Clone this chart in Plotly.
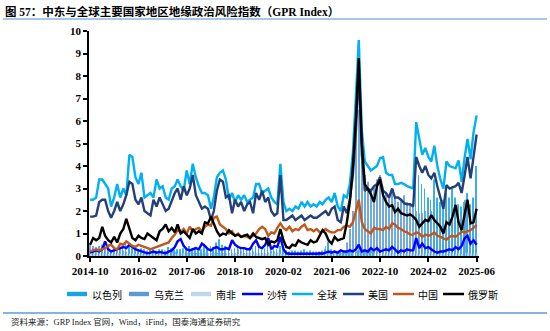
import pandas as pd
import plotly.graph_objects as go

# Monthly observations, 2014-10 .. 2025-06
months = pd.date_range("2014-10-01", "2025-06-01", freq="MS")

tick_labels = ["2014-10", "2016-02", "2017-06", "2018-10", "2020-02",
               "2021-06", "2022-10", "2024-02", "2025-06"]
tick_vals = pd.to_datetime([t + "-01" for t in tick_labels])

# ---- bar series (country GPR) ----
israel = (
    [0.3, 0.35, 0.3]
    + [0.4, 0.5, 0.45, 0.3, 0.25, 0.3, 0.35, 0.3, 0.4, 0.6, 0.45, 0.35]
    + [0.4, 0.3, 0.35, 0.3, 0.25, 0.3, 0.3, 0.25, 0.3, 0.3, 0.25, 0.4]
    + [0.35, 0.3, 0.3, 0.3, 0.35, 0.3, 0.45, 0.3, 0.3, 0.3, 0.3, 0.55]
    + [0.4, 0.45, 0.4, 0.6, 0.75, 0.5, 0.45, 0.35, 0.3, 0.35, 0.45, 0.4]
    + [0.35, 0.3, 0.4, 0.35, 0.45, 0.35, 0.3, 0.35, 0.45, 0.35, 0.4, 0.3]
    + [0.45, 0.35, 0.25, 0.2, 0.25, 0.25, 0.2, 0.25, 0.3, 0.2, 0.25, 0.2]
    + [0.2, 0.2, 0.25, 0.3, 0.65, 0.3, 0.25, 0.2, 0.2, 0.25, 0.2, 0.2]
    + [0.25, 0.2, 0.25, 0.3, 0.3, 0.25, 0.25, 0.3, 0.25, 0.25, 0.25, 0.3]
    + [0.35, 0.3, 0.35, 0.4, 0.35, 0.3, 0.35, 0.3, 0.3, 4.3, 3.6, 3.2]
    + [3.0, 2.6, 2.5, 3.4, 2.6, 2.4, 2.5, 2.8, 2.6, 3.1, 2.6, 2.3]
    + [2.2, 2.4, 2.8, 2.3, 2.6, 4.0]
)
ukraine = (
    [0.55, 0.45, 0.4]
    + [0.45, 0.5, 0.35, 0.3, 0.25, 0.3, 0.25, 0.3, 0.25, 0.2, 0.2, 0.2]
    + [0.2, 0.2, 0.15, 0.15, 0.2, 0.15, 0.15, 0.2, 0.15, 0.15, 0.15, 0.15]
    + [0.2, 0.2, 0.15, 0.15, 0.15, 0.15, 0.15, 0.15, 0.15, 0.12, 0.12, 0.15]
    + [0.12, 0.12, 0.12, 0.15, 0.12, 0.12, 0.12, 0.12, 0.12, 0.12, 0.3, 0.25]
    + [0.15, 0.15, 0.15, 0.2, 0.15, 0.12, 0.12, 0.12, 0.15, 0.25, 0.2, 0.15]
    + [0.2, 0.15, 0.1, 0.1, 0.1, 0.1, 0.1, 0.1, 0.1, 0.1, 0.1, 0.1]
    + [0.12, 0.15, 0.2, 0.45, 0.3, 0.15, 0.15, 0.15, 0.15, 0.2, 0.6, 1.2]
    + [2.0, 5.8, 6.5, 4.2, 3.6, 3.3, 3.0, 3.1, 3.4, 3.6, 3.0, 2.8]
    + [2.7, 2.9, 2.6, 2.4, 2.5, 2.7, 2.4, 2.3, 2.2, 2.0, 1.9, 1.9]
    + [2.0, 2.2, 2.0, 1.9, 2.1, 1.8, 1.7, 2.2, 1.9, 1.8, 2.0, 1.9]
    + [2.1, 2.5, 2.4, 2.2, 2.3, 2.4]
)
south_africa = (
    [0.1, 0.1, 0.08]
    + [0.1, 0.12, 0.1, 0.08, 0.1, 0.1, 0.12, 0.1, 0.08, 0.1, 0.1, 0.12]
    + [0.1, 0.08, 0.1, 0.12, 0.1, 0.08, 0.1, 0.1, 0.12, 0.1, 0.08, 0.1]
    + [0.12, 0.1, 0.1, 0.15, 0.12, 0.1, 0.1, 0.08, 0.1, 0.1, 0.12, 0.15]
    + [0.12, 0.1, 0.1, 0.08, 0.1, 0.1, 0.12, 0.1, 0.1, 0.08, 0.1, 0.1]
    + [0.1, 0.12, 0.1, 0.1, 0.12, 0.1, 0.08, 0.1, 0.1, 0.1, 0.12, 0.1]
    + [0.1, 0.08, 0.08, 0.1, 0.1, 0.12, 0.15, 0.1, 0.1, 0.08, 0.1, 0.1]
    + [0.1, 0.1, 0.08, 0.1, 0.1, 0.1, 0.2, 0.1, 0.1, 0.1, 0.08, 0.1]
    + [0.12, 0.15, 0.15, 0.12, 0.1, 0.1, 0.12, 0.1, 0.1, 0.12, 0.1, 0.1]
    + [0.12, 0.1, 0.1, 0.12, 0.1, 0.1, 0.1, 0.12, 0.1, 0.12, 0.1, 0.1]
    + [0.1, 0.12, 0.1, 0.1, 0.12, 0.1, 0.1, 0.1, 0.12, 0.1, 0.1, 0.12]
    + [0.1, 0.12, 0.15, 0.12, 0.1, 0.12]
)

# ---- line series ----
saudi = (
    [0.15, 0.2, 0.25]
    + [0.2, 0.3, 0.65, 0.3, 0.2, 0.25, 0.3, 0.35, 0.4, 0.35, 0.5, 0.4]
    + [0.3, 0.25, 0.2, 0.15, 0.12, 0.15, 0.2, 0.15, 0.18, 0.15, 0.12, 0.2]
    + [0.25, 0.4, 0.65, 0.75, 0.45, 0.3, 0.25, 0.3, 0.35, 0.3, 0.55, 0.45]
    + [0.3, 0.25, 0.35, 0.4, 0.3, 0.3, 0.35, 0.3, 0.7, 0.5, 0.4, 0.35]
    + [0.35, 0.3, 0.3, 0.55, 0.7, 0.4, 0.35, 0.5, 0.8, 0.3, 0.45, 0.4]
    + [0.85, 0.3, 0.12, 0.1, 0.1, 0.08, 0.1, 0.1, 0.08, 0.1, 0.1, 0.08]
    + [0.1, 0.12, 0.1, 0.15, 0.2, 0.15, 0.2, 0.15, 0.25, 0.2, 0.2, 0.25]
    + [0.2, 0.3, 0.5, 0.2, 0.25, 0.2, 0.35, 0.25, 0.35, 0.2, 0.25, 0.3]
    + [0.25, 0.4, 0.3, 0.15, 0.25, 0.2, 0.3, 0.25, 0.25, 0.8, 0.35, 0.55]
    + [0.35, 0.4, 0.3, 0.2, 0.15, 0.2, 0.2, 0.25, 0.3, 0.25, 0.4, 0.3]
    + [0.45, 0.8, 0.9, 0.55, 0.7, 0.5]
)
world = (
    [2.5, 2.5, 2.6]
    + [3.4, 3.4, 3.2, 3.0, 2.2, 2.6, 3.2, 2.6, 3.0, 2.7, 4.5, 4.4]
    + [3.5, 3.2, 3.7, 2.6, 2.7, 2.8, 2.6, 3.4, 3.0, 3.1, 2.6, 2.5]
    + [3.0, 3.1, 3.4, 3.1, 2.9, 3.8, 3.2, 4.1, 3.5, 3.1, 2.8, 2.8]
    + [2.7, 2.1, 2.6, 3.5, 3.7, 3.8, 3.4, 2.5, 2.8, 2.4, 2.7, 2.5]
    + [2.7, 2.4, 2.5, 2.6, 3.2, 3.2, 2.8, 2.9, 3.0, 2.6, 2.4, 2.3]
    + [4.1, 2.4, 2.0, 2.1, 2.0, 2.2, 2.1, 2.4, 2.2, 2.4, 2.2, 2.3]
    + [2.2, 2.4, 2.3, 2.5, 2.6, 2.4, 2.8, 2.2, 2.0, 2.7, 2.6, 3.2]
    + [4.6, 7.2, 9.6, 5.6, 4.2, 4.0, 3.8, 3.9, 4.0, 4.35, 4.4, 3.7]
    + [3.6, 3.6, 3.2, 3.2, 3.25, 3.2, 3.1, 3.05, 3.0, 5.95, 5.2, 4.5]
    + [4.8, 4.4, 4.2, 4.9, 4.0, 3.4, 3.0, 4.2, 4.0, 3.95, 3.9, 4.25]
    + [3.3, 4.4, 5.2, 4.3, 5.5, 6.25]
)
usa = (
    [1.75, 1.75, 1.8]
    + [2.4, 2.5, 2.5, 2.0, 1.7, 2.0, 2.4, 2.0, 2.3, 2.7, 3.3, 3.2]
    + [2.5, 2.3, 2.6, 2.0, 1.9, 1.8, 2.5, 2.2, 2.6, 2.3, 2.0, 2.1]
    + [2.5, 2.8, 3.0, 2.5, 3.1, 2.7, 3.0, 3.6, 2.7, 2.4, 2.1, 2.2]
    + [2.1, 1.6, 2.0, 2.9, 3.4, 3.3, 2.6, 2.7, 1.9, 2.5, 2.2, 2.4]
    + [2.0, 2.3, 2.4, 1.9, 2.8, 2.5, 2.9, 2.4, 2.6, 2.0, 1.8, 1.9]
    + [3.6, 1.6, 1.6, 1.7, 1.8, 1.6, 1.7, 1.8, 1.6, 1.7, 1.8, 1.7]
    + [1.7, 1.8, 1.9, 2.0, 1.8, 2.1, 2.2, 1.6, 1.5, 2.2, 1.9, 2.5]
    + [3.6, 5.6, 8.3, 4.5, 2.9, 3.0, 2.9, 3.1, 3.2, 3.5, 2.9, 2.8]
    + [2.6, 3.0, 2.6, 2.6, 2.5, 2.35, 2.3, 2.3, 2.2, 4.4, 4.0, 3.7]
    + [4.0, 3.6, 3.45, 3.7, 3.1, 2.6, 2.1, 3.15, 3.0, 3.05, 3.1, 3.25]
    + [2.8, 3.6, 4.4, 3.45, 4.5, 5.4]
)
china = (
    [0.2, 0.25, 0.3]
    + [0.25, 0.3, 0.35, 0.45, 0.5, 0.35, 0.3, 0.55, 0.5, 0.65, 0.55, 0.45]
    + [0.4, 0.5, 0.45, 0.4, 0.35, 0.3, 0.35, 0.4, 0.45, 0.5, 0.55, 0.6]
    + [0.8, 0.95, 1.15, 1.05, 1.2, 1.0, 1.3, 1.1, 1.2, 1.25, 1.1, 1.3]
    + [1.4, 1.35, 1.7, 1.75, 1.4, 1.3, 1.2, 1.0, 1.1, 0.9, 1.0, 0.85]
    + [0.9, 0.85, 0.8, 0.9, 1.0, 1.2, 1.3, 1.2, 0.9, 1.05, 1.0, 1.25]
    + [1.45, 1.25, 1.15, 1.3, 1.1, 1.2, 1.15, 1.3, 1.4, 1.15, 1.2, 1.1]
    + [1.2, 1.05, 1.1, 1.2, 1.1, 1.05, 1.05, 1.15, 1.15, 1.3, 1.35, 1.3]
    + [1.5, 2.0, 2.5, 1.5, 1.2, 1.1, 1.0, 1.25, 1.2, 1.2, 1.15, 1.3]
    + [1.2, 1.45, 1.4, 1.25, 1.2, 1.1, 1.05, 0.95, 0.95, 1.05, 1.0, 0.85]
    + [0.95, 0.9, 0.95, 1.05, 0.9, 0.85, 0.8, 0.72, 0.85, 0.9, 0.85, 0.95]
    + [1.08, 1.05, 1.1, 1.15, 1.25, 1.38]
)
russia = (
    [0.5, 0.8, 0.7]
    + [0.8, 1.3, 0.9, 0.7, 0.6, 0.85, 0.6, 1.0, 1.2, 1.65, 1.2, 0.8]
    + [0.7, 0.9, 0.8, 0.75, 1.0, 0.9, 0.8, 0.7, 1.1, 1.2, 1.4, 1.1]
    + [1.25, 1.05, 1.4, 1.0, 1.1, 0.95, 0.8, 1.2, 1.0, 1.1, 1.0, 1.5]
    + [1.45, 1.75, 1.4, 1.1, 0.9, 1.0, 0.95, 1.15, 1.0, 0.9, 0.95, 0.85]
    + [0.9, 0.95, 0.8, 1.0, 0.85, 0.8, 0.75, 0.8, 0.5, 0.65, 0.6, 0.7]
    + [1.2, 0.7, 0.4, 0.35, 0.5, 0.45, 0.7, 0.6, 0.55, 0.5, 0.7, 0.6]
    + [0.65, 0.9, 1.15, 1.0, 0.7, 0.55, 0.85, 0.7, 0.75, 0.8, 1.5, 2.4]
    + [4.0, 6.2, 8.8, 5.0, 3.2, 3.0, 2.75, 2.4, 3.1, 3.4, 2.7, 2.4]
    + [2.2, 2.25, 1.95, 2.1, 1.9, 1.85, 1.8, 1.85, 1.75, 1.6, 1.3, 1.45]
    + [1.6, 1.55, 1.82, 1.6, 1.45, 1.3, 1.0, 1.5, 1.4, 1.75, 2.27, 1.5]
    + [1.15, 1.9, 2.5, 1.45, 1.5, 2.1]
)

bar_series = [
    ("以色列", israel, "#1AA3E3"),
    ("乌克兰", ukraine, "#5B9BD5"),
    ("南非", south_africa, "#BDD7EE"),
]
line_series = [
    ("沙特", saudi, "#0000FF"),
    ("全球", world, "#00B0F0"),
    ("美国", usa, "#23407A"),
    ("中国", china, "#C0581A"),
    ("俄罗斯", russia, "#000000"),
]

SERIF_CJK = "Liberation Serif, Noto Sans CJK SC, serif"
CJK = "Noto Sans CJK SC, sans-serif"

fig = go.Figure()
for name, vals, color in bar_series:
    fig.add_trace(go.Bar(x=months, y=vals, name=name, marker_color=color,
                         marker_line_width=0, opacity=0.85, showlegend=False))
for name, vals, color in line_series:
    fig.add_trace(go.Scatter(x=months, y=vals, name=name, mode="lines",
                             line=dict(color=color, width=2.4), showlegend=False))

# page geometry (pixels)
W, H = 550, 331
ML, MR, MT, MB = 89, 71, 31, 75
PW, PH = W - ML - MR, H - MT - MB


def fx(px):
    return (px - ML) / PW


def fy(py):
    return (H - MB - py) / PH


shapes = []
annotations = []

# title with rule underneath
annotations.append(dict(
    text="<b>图 57：中东与全球主要国家地区地缘政治风险指数（GPR Index）</b>",
    x=fx(3), y=fy(11), xref="paper", yref="paper", xanchor="left", yanchor="middle",
    showarrow=False, font=dict(family=SERIF_CJK, size=11.5, color="#000000")))
shapes.append(dict(type="line", xref="paper", yref="paper",
                   x0=fx(3), x1=fx(547), y0=fy(19), y1=fy(19),
                   line=dict(color="#4A8FD0", width=1.2)))

# source note with rule above
shapes.append(dict(type="line", xref="paper", yref="paper",
                   x0=fx(3), x1=fx(547), y0=fy(313), y1=fy(313),
                   line=dict(color="#5B9BD5", width=1.5)))
annotations.append(dict(
    text="资料来源：GRP Index 官网，Wind，iFind，国泰海通证券研究",
    x=fx(9), y=fy(322), xref="paper", yref="paper", xanchor="left", yanchor="middle",
    showarrow=False, font=dict(family=SERIF_CJK, size=8.5, color="#222222")))

# legend row
legend_x = [67, 129, 191, 242, 292, 343, 393, 443]
legend_y = 294
items = [(n, c, "bar") for n, _, c in bar_series] + [(n, c, "line") for n, _, c in line_series]
for (name, color, kind), x0 in zip(items, legend_x):
    if kind == "bar":
        shapes.append(dict(type="rect", xref="paper", yref="paper",
                           x0=fx(x0), x1=fx(x0 + 20), y0=fy(legend_y + 2.2), y1=fy(legend_y - 2.2),
                           fillcolor=color, line=dict(width=0)))
    else:
        shapes.append(dict(type="line", xref="paper", yref="paper",
                           x0=fx(x0), x1=fx(x0 + 21), y0=fy(legend_y), y1=fy(legend_y),
                           line=dict(color=color, width=2.5)))
    annotations.append(dict(text=name, x=fx(x0 + 23), y=fy(legend_y), xref="paper", yref="paper",
                            xanchor="left", yanchor="middle", showarrow=False,
                            font=dict(family=CJK, size=10, color="#000000")))

fig.update_layout(
    width=W, height=H,
    margin=dict(l=ML, r=MR, t=MT, b=MB, pad=0),
    paper_bgcolor="white", plot_bgcolor="white",
    barmode="group", bargap=0.3, bargroupgap=0,
    showlegend=False,
    shapes=shapes, annotations=annotations,
    font=dict(family=SERIF_CJK, color="#000000"),
)
fig.update_xaxes(
    range=["2014-09-20", "2025-06-25"],
    tickmode="array", tickvals=tick_vals, ticktext=tick_labels,
    showline=True, linecolor="#000000", linewidth=1.5,
    ticks="outside", ticklen=4, tickwidth=1.5, tickcolor="#000000",
    showgrid=False, zeroline=False,
    tickfont=dict(family="Liberation Serif", size=11, color="#000000", weight="bold"),
)
fig.update_yaxes(
    range=[0, 10], dtick=1, tick0=0,
    showline=True, linecolor="#000000", linewidth=1.5,
    ticks="outside", ticklen=4, tickwidth=1.5, tickcolor="#000000",
    showgrid=False, zeroline=False,
    tickfont=dict(family="Liberation Serif", size=11, color="#000000", weight="bold"),
)

fig.write_html("out.html")
